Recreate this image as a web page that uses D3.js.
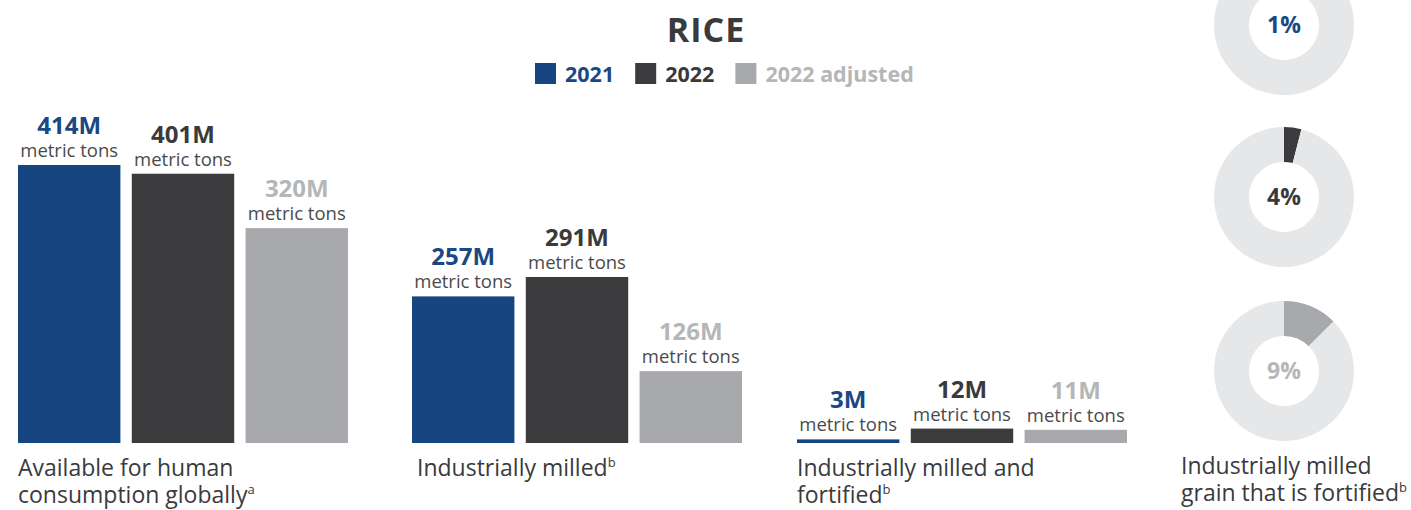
<!DOCTYPE html>
<html>
<head>
<meta charset="utf-8">
<script src="https://cdn.jsdelivr.net/npm/d3@7"></script>
<style>
    body{margin:0;background:#fff;}
    svg{display:block;font-family:"Open Sans",sans-serif;}
</style>
</head>
<body>
<svg id="chart" width="1411" height="510"></svg>
<script>
"use strict";

//数据
var series = ["2021", "2022", "2022 adjusted"];
var available = [414, 401, 320];
var milled = [257, 291, 126];
var fortified = [3, 12, 11];
var groupLines = [["Available for human", "consumption globally"], ["Industrially milled"], ["Industrially milled and", "fortified"]];
var groupNotes = ["a", "b", "b"];
var ringLabels = ["1%", "4%", "9%"];
var ringShares = [1, 4, 12.5];   //slice size as drawn in the source
var ringLines = ["Industrially milled", "grain that is fortified"];
var ringNote = "b";

//样式
var barColor = ["#16457f", "#3b3b3e", "#a7a9ac"];
var textColor = ["#1a4882", "#3a3a3c", "#b4b6b8"];
var darkText = "#3a3a3c";
var ringBack = "#e6e7e8";

var svg = d3.select("#chart");
var baseY = 443;
var groupX = [18, 412, 797];
var labelX = [18, 417, 797];
var groupMaxH = [278, 166, 14.4];
var groupData = [available, milled, fortified];

//标题
svg.append("text")
    .attr("x", 706)
    .attr("y", 42)
    .attr("text-anchor", "middle")
    .attr("font-size", 34)
    .attr("font-weight", 700)
    .attr("letter-spacing", 1)
    .attr("fill", darkText)
    .text("RICE");

//图例
var legendX = 535;
series.forEach(function(s, i){
    svg.append("rect")
        .attr("x", legendX)
        .attr("y", 63)
        .attr("width", 21)
        .attr("height", 21)
        .attr("fill", barColor[i]);
    var t = svg.append("text")
        .attr("x", legendX + 30)
        .attr("y", 82)
        .attr("font-size", 21.5)
        .attr("font-weight", 700)
        .attr("fill", textColor[i])
        .text(s);
    legendX += 30 + t.node().getComputedTextLength() + 21;
});

//文字加上标
function addLines(x, y0, lines, note){
    var t = svg.append("text")
        .attr("font-size", 23)
        .attr("fill", darkText);
    lines.forEach(function(line, j){
        t.append("tspan")
            .attr("x", x)
            .attr("y", y0 + j * 27)
            .text(line);
    });
    t.append("tspan")
        .attr("font-size", 13)
        .attr("dy", -9)
        .text(note);
}

//柱状图
groupData.forEach(function(values, i){
    var x = d3.scaleBand()
        .domain(series)
        .range([groupX[i], groupX[i] + 330])
        .paddingInner(0.1);
    var y = d3.scaleLinear()
        .domain([0, d3.max(values)])
        .range([baseY, baseY - groupMaxH[i]]);

    var g = svg.append("g").attr("class", "group" + i);

    g.selectAll("rect")
        .data(values)
        .enter()
        .append("rect")
        .attr("x", function(d, j){ return x(series[j]); })
        .attr("y", function(d){ return y(d); })
        .attr("width", x.bandwidth())
        .attr("height", function(d){ return baseY - y(d); })
        .attr("fill", function(d, j){ return barColor[j]; });

    g.selectAll(".valueText")
        .data(values)
        .enter()
        .append("text")
        .attr("class", "valueText")
        .attr("x", function(d, j){ return x(series[j]) + x.bandwidth() / 2; })
        .attr("y", function(d){ return y(d) - 31; })
        .attr("text-anchor", "middle")
        .attr("font-size", 24)
        .attr("font-weight", 700)
        .attr("fill", function(d, j){ return textColor[j]; })
        .text(function(d){ return d + "M"; });

    g.selectAll(".unitText")
        .data(values)
        .enter()
        .append("text")
        .attr("class", "unitText")
        .attr("x", function(d, j){ return x(series[j]) + x.bandwidth() / 2; })
        .attr("y", function(d){ return y(d) - 8; })
        .attr("text-anchor", "middle")
        .attr("font-size", 18.5)
        .attr("fill", "#4a4a4c")
        .text("metric tons");

    addLines(labelX[i], 476, groupLines[i], groupNotes[i]);
});

//环形图
var ringCX = 1284;
var ringCY = [25, 197, 371];
var arc = d3.arc().innerRadius(35).outerRadius(70);
var pie = d3.pie().sort(null);

ringShares.forEach(function(share, i){
    var g = svg.append("g")
        .attr("transform", "translate(" + ringCX + "," + ringCY[i] + ")");
    g.selectAll("path")
        .data(pie([share, 100 - share]))
        .enter()
        .append("path")
        .attr("d", arc)
        .attr("fill", function(d, j){ return j === 0 ? barColor[i] : ringBack; });
    g.append("text")
        .attr("x", 0)
        .attr("y", 8)
        .attr("text-anchor", "middle")
        .attr("font-size", 23)
        .attr("font-weight", 700)
        .attr("fill", textColor[i])
        .text(ringLabels[i]);
});

addLines(1181, 474, ringLines, ringNote);
</script>
</body>
</html>
